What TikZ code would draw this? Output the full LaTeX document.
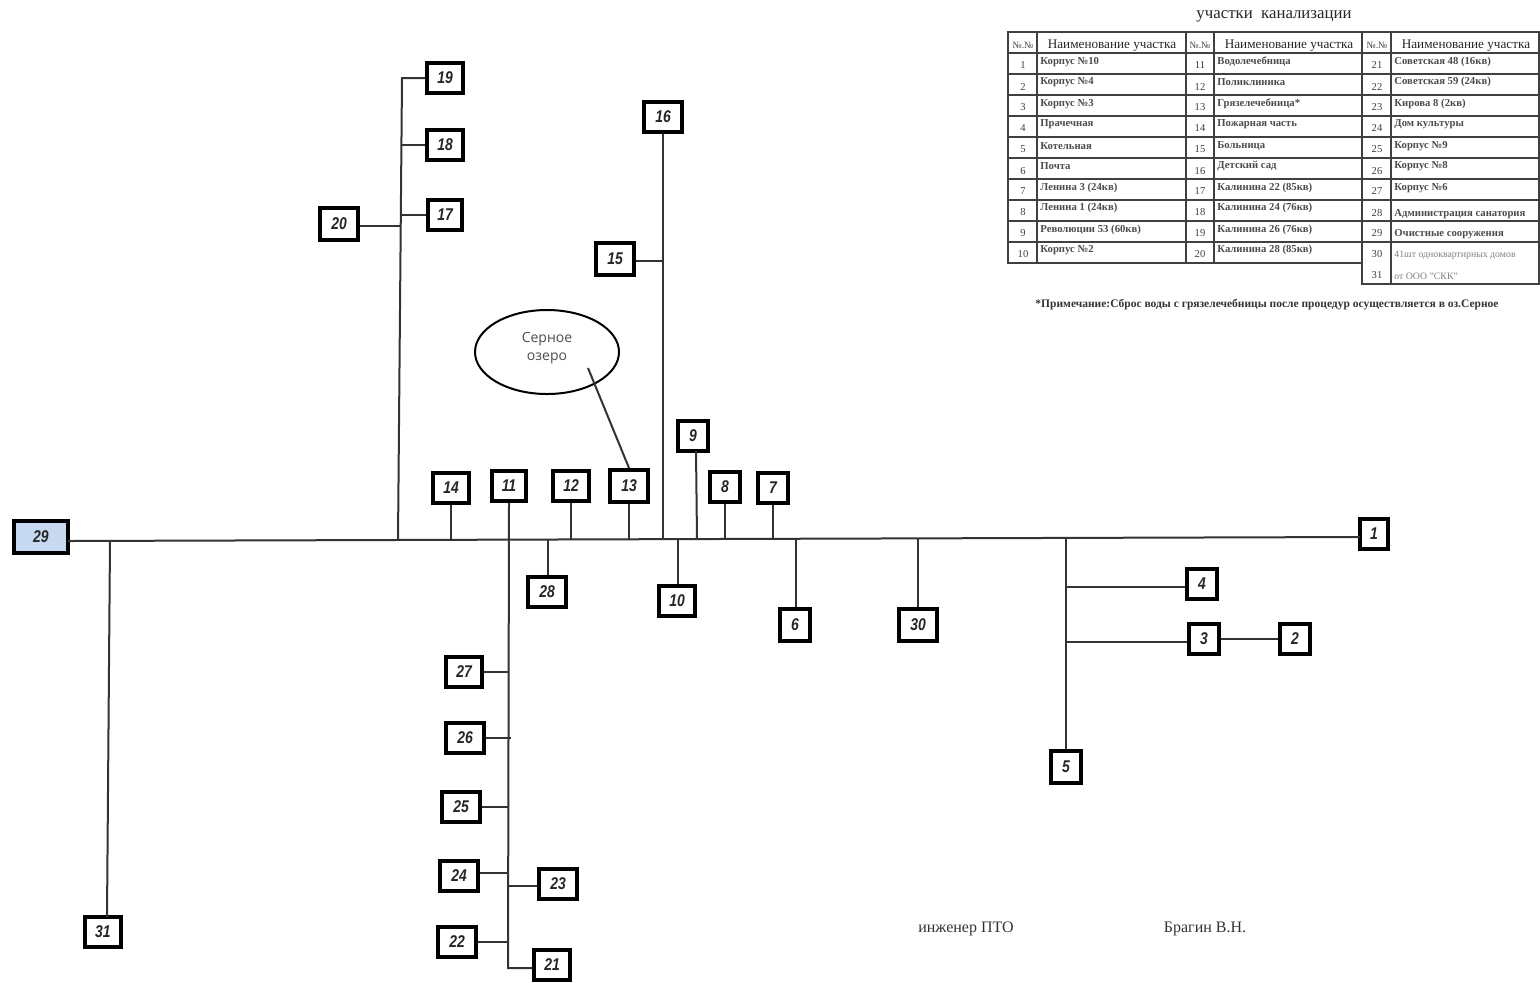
\documentclass[tikz,border=0pt]{standalone}
\usepackage{fontspec}
\usetikzlibrary{shapes.geometric}
\setmainfont{Liberation Serif}
\newfontfamily\boxfont[FakeStretch=0.82]{Liberation Sans}
\newfontfamily\lakefont{Open Sans}
\definecolor{plantblue}{RGB}{198,217,241}
\tikzset{
  secbox/.style={draw=black, line width=2pt, fill=white, inner sep=0pt, minimum width=18pt, minimum height=15pt, font=\boxfont\fontsize{8.5}{9}\selectfont\bfseries\itshape, text=black!85},
  pipe/.style={line width=1pt, draw=black!80},
  grid/.style={line width=0.9pt, draw=black!75},
  cellnum/.style={font=\fontsize{5.3}{6}\selectfont, text=black!75},
  celltext/.style={anchor=west, inner sep=0pt, font=\fontsize{5.35}{6}\selectfont\bfseries, text=black!70},
  smalltext/.style={celltext, text=black!50, font=\fontsize{4.9}{5}\selectfont},
  headtext/.style={font=\fontsize{6.6}{7}\selectfont, text=black!85},
  plain/.style={inner sep=0pt}
}
\begin{document}
\begin{tikzpicture}[x=0.5pt, y=-0.5pt]
    \useasboundingbox (0,0) rectangle (1540,982);

    % section boxes
    \node[secbox, fill=plantblue, minimum width=27pt, minimum height=16pt] (n29) at (41,537) {29};
    \node[secbox, minimum width=14pt] (n1) at (1374,534) {1};
    \node[secbox, minimum width=15pt] (n2) at (1295,639) {2};
    \node[secbox, minimum width=15pt] (n3) at (1204,639) {3};
    \node[secbox, minimum width=15pt] (n4) at (1202,584) {4};
    \node[secbox, minimum width=15pt, minimum height=16pt] (n5) at (1066,767) {5};
    \node[secbox, minimum width=15pt, minimum height=16pt] (n6) at (795,625) {6};
    \node[secbox, minimum width=15pt] (n7) at (773,488) {7};
    \node[secbox, minimum width=15pt] (n8) at (725,487) {8};
    \node[secbox, minimum width=15pt] (n9) at (693,436) {9};
    \node[secbox] (n10) at (677,601) {10};
    \node[secbox, minimum width=17pt] (n11) at (509,486) {11};
    \node[secbox] (n12) at (571,486) {12};
    \node[secbox, minimum width=19pt, minimum height=16pt] (n13) at (629,486) {13};
    \node[secbox] (n14) at (451,488) {14};
    \node[secbox, minimum width=19pt, minimum height=16pt] (n15) at (615,259) {15};
    \node[secbox, minimum width=19pt] (n16) at (663,117) {16};
    \node[secbox, minimum width=17pt] (n17) at (445,215) {17};
    \node[secbox] (n18) at (445,145) {18};
    \node[secbox] (n19) at (445,78) {19};
    \node[secbox, minimum width=19pt, minimum height=16pt] (n20) at (339,224) {20};
    \node[secbox] (n21) at (552,965) {21};
    \node[secbox, minimum width=19pt] (n22) at (457,942) {22};
    \node[secbox, minimum width=19pt] (n23) at (558,884) {23};
    \node[secbox, minimum width=19pt] (n24) at (459,876) {24};
    \node[secbox, minimum width=19pt] (n25) at (461,807) {25};
    \node[secbox, minimum width=19pt] (n26) at (465,738) {26};
    \node[secbox] (n27) at (464,672) {27};
    \node[secbox, minimum width=19pt] (n28) at (547,592) {28};
    \node[secbox, minimum width=19pt, minimum height=16pt] (n30) at (918,625) {30};
    \node[secbox] (n31) at (103,932) {31};

    % lake
    \node[draw=black, line width=1pt, ellipse, minimum width=72pt, minimum height=42pt, inner sep=0pt] (lake) at (547,352) {};
    \node[plain, align=center, text=black!70, font=\lakefont\fontsize{7}{9}\selectfont] (laketext) at (547,348) {Серное\\озеро};

    % trunk
    \coordinate (m0) at (68,541);
    \coordinate (m1) at (1360,537);
    \draw[pipe] (m0) -- (m1);

    % branches off the trunk
    \coordinate (j31) at (110,541);
    \coordinate (e31) at (107,917);
    \draw[pipe] (j31) -- (e31);
    \coordinate (j19) at (398,540);
    \coordinate (t19) at (402,78);
    \draw[pipe] (j19) -- (t19) -- (n19.west);
    \coordinate (j18) at (402,145);
    \draw[pipe] (j18) -- (n18.west);
    \coordinate (j17) at (401,215);
    \draw[pipe] (j17) -- (n17.west);
    \coordinate (j20) at (400,226);
    \draw[pipe] (n20.east |- j20) -- (j20);
    \coordinate (j14) at (451,539);
    \draw[pipe] (n14.south) -- (j14);
    \coordinate (t11) at (508,968);
    \draw[pipe] (n11.south) -- (t11) -- (n21.west |- t11);
    \coordinate (j27) at (508,672);
    \draw[pipe] (n27.east) -- (j27);
    \coordinate (j26) at (511,738);
    \draw[pipe] (n26.east) -- (j26);
    \coordinate (j25) at (508,807);
    \draw[pipe] (n25.east) -- (j25);
    \coordinate (j24) at (508,873);
    \draw[pipe] (n24.east |- j24) -- (j24);
    \coordinate (j23) at (508,886);
    \draw[pipe] (j23) -- (n23.west |- j23);
    \coordinate (j22) at (508,942);
    \draw[pipe] (n22.east) -- (j22);
    \coordinate (j28) at (548,540);
    \draw[pipe] (j28) -- (n28.north -| j28);
    \coordinate (j12) at (571,539);
    \draw[pipe] (n12.south) -- (j12);
    \coordinate (j13) at (629,539);
    \draw[pipe] (n13.south) -- (j13);
    \coordinate (l0) at (588,368);
    \draw[pipe] (l0) -- (n13.north);
    \coordinate (j16) at (663,540);
    \draw[pipe] (n16.south) -- (j16);
    \coordinate (j15) at (662,261);
    \draw[pipe] (n15.east |- j15) -- (j15);
    \coordinate (j10) at (678,540);
    \draw[pipe] (j10) -- (n10.north -| j10);
    \coordinate (j9) at (697,539);
    \coordinate (e9) at (696,451);
    \draw[pipe] (e9) -- (j9);
    \coordinate (j8) at (725,539);
    \draw[pipe] (n8.south) -- (j8);
    \coordinate (j7) at (773,539);
    \draw[pipe] (n7.south) -- (j7);
    \coordinate (j6) at (796,539);
    \draw[pipe] (j6) -- (n6.north -| j6);
    \coordinate (j30) at (918,538);
    \draw[pipe] (j30) -- (n30.north);
    \coordinate (j5) at (1066,538);
    \draw[pipe] (j5) -- (n5.north);
    \coordinate (j4) at (1066,587);
    \draw[pipe] (j4) -- (n4.west |- j4);
    \coordinate (j3) at (1067,642);
    \draw[pipe] (j3) -- (n3.west |- j3);
    \draw[pipe] (n3.east) -- (n2.west);

    % table
    \node[plain, font=\fontsize{8.4}{9}\selectfont, text=black!85] (title) at (1274,16) {участки\ \ канализации};
    \draw[grid] (1008,32) rectangle (1539,53);
    \draw[grid] (1008,32) -- (1008,263) -- (1362,263);
    \draw[grid] (1362,263) -- (1362,284) -- (1539,284) -- (1539,32);
    \draw[grid] (1037,32) -- (1037,263);
    \draw[grid] (1186,32) -- (1186,263);
    \draw[grid] (1214,32) -- (1214,263);
    \draw[grid] (1362,32) -- (1362,263);
    \draw[grid] (1391,32) -- (1391,284);
    \draw[grid] (1008,74) -- (1539,74);
    \draw[grid] (1008,95) -- (1539,95);
    \draw[grid] (1008,116) -- (1539,116);
    \draw[grid] (1008,137) -- (1539,137);
    \draw[grid] (1008,158) -- (1539,158);
    \draw[grid] (1008,179) -- (1539,179);
    \draw[grid] (1008,200) -- (1539,200);
    \draw[grid] (1008,221) -- (1539,221);
    \draw[grid] (1008,242) -- (1539,242);

    \node[cellnum, font=\fontsize{4.8}{5}\selectfont] (h1) at (1023,45) {№.№};
    \node[headtext] (h2) at (1112,46) {Наименование участка};
    \node[cellnum, font=\fontsize{4.8}{5}\selectfont] (h3) at (1200,45) {№.№};
    \node[headtext] (h4) at (1289,46) {Наименование участка};
    \node[cellnum, font=\fontsize{4.8}{5}\selectfont] (h5) at (1377,45) {№.№};
    \node[headtext] (h6) at (1466,46) {Наименование участка};

    \node[cellnum] (c1) at (1023,65) {1};
    \node[cellnum] (c2) at (1023,87) {2};
    \node[cellnum] (c3) at (1023,107) {3};
    \node[cellnum] (c4) at (1023,128) {4};
    \node[cellnum] (c5) at (1023,149) {5};
    \node[cellnum] (c6) at (1023,171) {6};
    \node[cellnum] (c7) at (1023,191) {7};
    \node[cellnum] (c8) at (1023,212) {8};
    \node[cellnum] (c9) at (1023,233) {9};
    \node[cellnum] (c10) at (1023,254) {10};
    \node[celltext] (d1) at (1040,62) {Корпус №10};
    \node[celltext] (d2) at (1040,82) {Корпус №4};
    \node[celltext] (d3) at (1040,104) {Корпус №3};
    \node[celltext] (d4) at (1040,124) {Прачечная};
    \node[celltext] (d5) at (1040,146) {Котельная};
    \node[celltext] (d6) at (1040,166) {Почта};
    \node[celltext] (d7) at (1040,188) {Ленина 3 (24кв)};
    \node[celltext] (d8) at (1040,208) {Ленина 1 (24кв)};
    \node[celltext] (d9) at (1040,230) {Революции 53 (60кв)};
    \node[celltext] (d10) at (1040,250) {Корпус №2};

    \node[cellnum] (c11) at (1200,65) {11};
    \node[cellnum] (c12) at (1200,87) {12};
    \node[cellnum] (c13) at (1200,107) {13};
    \node[cellnum] (c14) at (1200,128) {14};
    \node[cellnum] (c15) at (1200,149) {15};
    \node[cellnum] (c16) at (1200,171) {16};
    \node[cellnum] (c17) at (1200,191) {17};
    \node[cellnum] (c18) at (1200,212) {18};
    \node[cellnum] (c19) at (1200,233) {19};
    \node[cellnum] (c20) at (1200,254) {20};
    \node[celltext] (d11) at (1217,62) {Водолечебница};
    \node[celltext] (d12) at (1217,82) {Поликлиника};
    \node[celltext] (d13) at (1217,104) {Грязелечебница*};
    \node[celltext] (d14) at (1217,124) {Пожарная часть};
    \node[celltext] (d15) at (1217,146) {Больница};
    \node[celltext] (d16) at (1217,166) {Детский сад};
    \node[celltext] (d17) at (1217,188) {Калинина 22 (85кв)};
    \node[celltext] (d18) at (1217,208) {Калинина 24 (76кв)};
    \node[celltext] (d19) at (1217,230) {Калинина 26 (76кв)};
    \node[celltext] (d20) at (1217,250) {Калинина 28 (85кв)};

    \node[cellnum] (c21) at (1377,65) {21};
    \node[cellnum] (c22) at (1377,87) {22};
    \node[cellnum] (c23) at (1377,107) {23};
    \node[cellnum] (c24) at (1377,128) {24};
    \node[cellnum] (c25) at (1377,149) {25};
    \node[cellnum] (c26) at (1377,171) {26};
    \node[cellnum] (c27) at (1377,191) {27};
    \node[cellnum] (c28) at (1377,213) {28};
    \node[cellnum] (c29) at (1377,233) {29};
    \node[cellnum] (c30) at (1377,254) {30};
    \node[cellnum] (c31) at (1377,275) {31};
    \node[celltext] (d21) at (1394,62) {Советская 48 (16кв)};
    \node[celltext] (d22) at (1394,82) {Советская 59 (24кв)};
    \node[celltext] (d23) at (1394,104) {Кирова 8 (2кв)};
    \node[celltext] (d24) at (1394,124) {Дом культуры};
    \node[celltext] (d25) at (1394,146) {Корпус №9};
    \node[celltext] (d26) at (1394,166) {Корпус №8};
    \node[celltext] (d27) at (1394,188) {Корпус №6};
    \node[celltext] (d28) at (1394,214) {Администрация санатория};
    \node[celltext] (d29) at (1394,234) {Очистные сооружения};
    \node[smalltext] (d30) at (1394,255) {41шт одноквартирных домов};
    \node[smalltext] (d31) at (1394,276) {от ООО "СКК"};

    \node[plain, font=\fontsize{5.75}{6}\selectfont\bfseries, text=black!80] (note) at (1267,305) {*Примечание:Сброс воды с грязелечебницы после процедур осуществляется в оз.Серное};

    % signature
    \node[plain, font=\fontsize{8}{9}\selectfont, text=black!80] (post) at (966,929) {инженер ПТО};
    \node[plain, font=\fontsize{8}{9}\selectfont, text=black!80] (sign) at (1205,929) {Брагин В.Н.};
\end{tikzpicture}
\end{document}
